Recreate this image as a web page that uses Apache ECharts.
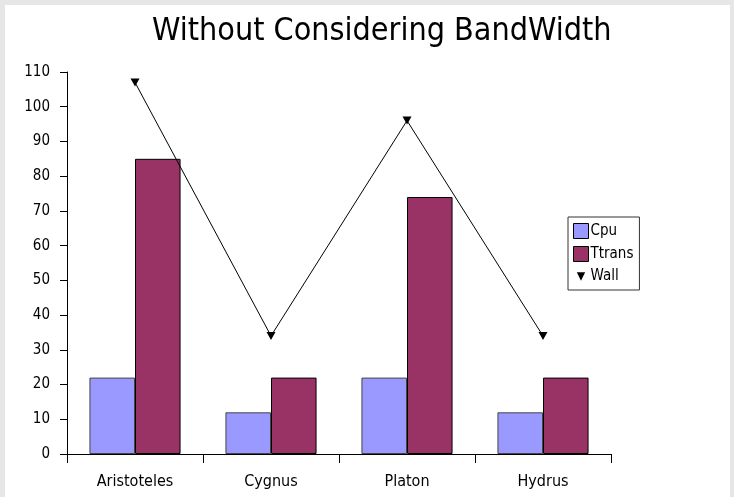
<!DOCTYPE html>
<html>
<head>
<meta charset="utf-8">
<script src="https://cdn.jsdelivr.net/npm/echarts@6/dist/echarts.min.js"></script>
<style>
  html, body { margin: 0; padding: 0; }
  #container { width: 734px; height: 497px; }
</style>
</head>
<body>
<div id="container"></div>
<script>
var dom = document.getElementById('container');
var myChart = echarts.init(dom, null, { renderer: 'canvas' });

const hosts = ['Aristoteles', 'Cygnus', 'Platon', 'Hydrus'];
const cpu = [22, 12, 22, 12];
const ttrans = [85, 22, 74, 22];
const wall = [107, 34, 96, 34];

const font = 'DejaVu Sans Condensed';
const downTri = 'path://M0,0 L10,0 L5,10 Z';
// same triangle, padded so the legend draws it smaller
const legendTri = 'path://M-3,-4 L-3,-4 M0,0 L10,0 L5,10 Z M13,14 L13,14';

var option = {
  backgroundColor: '#e6e6e6',
  animation: false,
  graphic: [{
    type: 'rect',
    z: -10,
    shape: { x: 5, y: 5, width: 725, height: 492 },
    style: { fill: '#fff' }
  }],
  title: {
    text: 'Without Considering BandWidth',
    left: 147,
    top: 11,
    textStyle: { fontFamily: font, fontSize: 32, fontWeight: 'normal', color: '#000' }
  },
  legend: {
    orient: 'vertical',
    left: 568,
    top: 217,
    padding: [6, 6, 6, 5],
    itemGap: 7,
    itemWidth: 15,
    itemHeight: 15,
    borderColor: '#333',
    borderWidth: 1,
    itemStyle: { borderWidth: 1, borderColor: '#000' },
    textStyle: { fontFamily: font, fontSize: 15, color: '#000', padding: [0, 0, 0, -3] },
    data: [
      { name: 'Cpu', icon: 'rect' },
      { name: 'Ttrans', icon: 'rect' },
      { name: 'Wall', icon: legendTri, itemStyle: { color: '#000', borderWidth: 0 } }
    ]
  },
  grid: { left: 67, right: 123, top: 72, bottom: 43 },
  xAxis: {
    type: 'category',
    data: hosts,
    axisLine: { lineStyle: { color: '#000', width: 1 } },
    axisTick: { show: true, length: 9, lineStyle: { color: '#000' } },
    axisLabel: { color: '#000', fontFamily: font, fontSize: 16, margin: 20 }
  },
  yAxis: {
    type: 'value',
    min: 0,
    max: 110,
    interval: 10,
    axisLine: { show: true, lineStyle: { color: '#000', width: 1 } },
    axisTick: { show: true, length: 7, lineStyle: { color: '#000' } },
    splitLine: { show: false },
    axisLabel: { color: '#000', fontFamily: font, fontSize: 15, margin: 17 }
  },
  series: [
    {
      name: 'Cpu',
      type: 'bar',
      data: cpu,
      barGap: '0%',
      barCategoryGap: '33%',
      itemStyle: { color: '#9999ff', borderColor: '#444', borderWidth: 1 }
    },
    {
      name: 'Ttrans',
      type: 'bar',
      data: ttrans,
      itemStyle: { color: '#993366', borderColor: '#000', borderWidth: 1 }
    },
    {
      name: 'Wall',
      type: 'line',
      data: wall,
      symbol: downTri,
      symbolSize: [9, 8],
      showAllSymbol: true,
      lineStyle: { color: '#000', width: 1 },
      itemStyle: { color: '#000' }
    }
  ]
};

myChart.setOption(option);
window.addEventListener('resize', myChart.resize);
</script>
</body>
</html>
